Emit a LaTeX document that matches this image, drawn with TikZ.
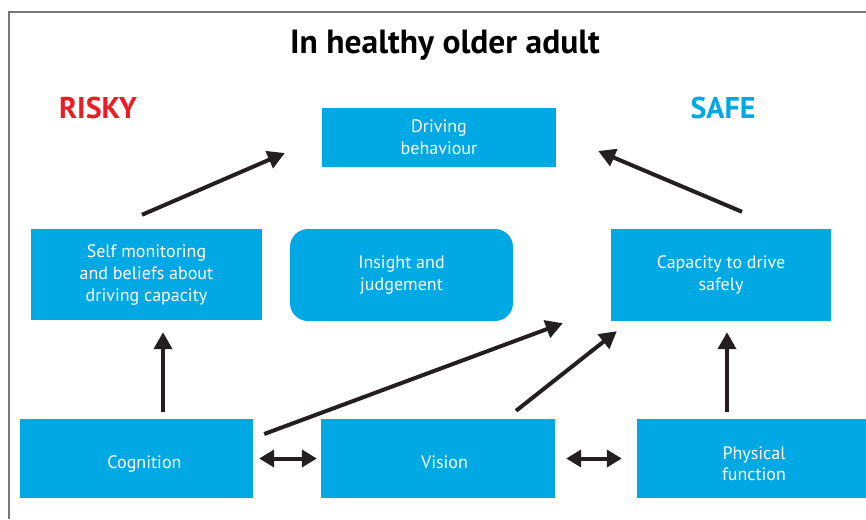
\documentclass[tikz,border=0pt]{standalone}
\usepackage{fontspec}
\setmainfont{PT Sans}
\usetikzlibrary{arrows.meta,calc}
\definecolor{boxcyan}{RGB}{0,168,228}
\definecolor{riskred}{RGB}{237,28,36}
\definecolor{arrowblk}{RGB}{35,31,32}
\definecolor{framegray}{RGB}{120,120,120}
% place text with its baseline shifted by #2 and its centre shifted right by #1
\newcommand\shifttext[3]{\raisebox{#2}[0pt][0pt]{\makebox[0pt]{\hspace*{#1}#3}}}
\tikzset{
  box/.style={fill=boxcyan, text=white, align=center, inner sep=0pt,
    font=\fontsize{18}{22}\selectfont},
  arr/.style={draw=arrowblk, line width=4pt, -{Triangle[length=17pt,width=18pt]}},
  dbl/.style={draw=arrowblk, line width=4pt, {Triangle[length=15pt,width=17pt]}-{Triangle[length=15pt,width=17pt]}},
  lbl/.style={font=\bfseries\fontsize{30}{33}\selectfont, inner sep=0pt}
}
\begin{document}
\begin{tikzpicture}[x=1pt,y=-1pt]
\useasboundingbox (0,0) rectangle (866,519);
\draw[framegray, line width=1.5pt] (9,519) -- (9,12) -- (866,12);
\node[font=\bfseries\fontsize{33.5}{36}\selectfont, inner sep=0pt] (title) at (445,45) {In healthy older adult};
\node[lbl, text=riskred] (risky) at (98,108) {RISKY};
\node[lbl, text=boxcyan] (safe) at (723,108) {SAFE};

\node[box, minimum width=234pt, minimum height=59pt] (drive) at (439,137.5) {Driving\\behaviour};
\node[box, minimum width=231pt, minimum height=91pt] (self) at (146.5,274.5) {Self monitoring\\and beliefs about\\driving capacity};
\node[box, minimum width=223pt, minimum height=92pt, rounded corners=18pt] (insight) at (401.5,275) {Insight and\\judgement};
\node[box, minimum width=220pt, minimum height=92pt] (cap) at (721,275) {Capacity to drive\\safely};
\node[box, minimum width=233pt, minimum height=79pt] (cog) at (136.5,458.5) {\shifttext{16pt}{-10pt}{Cognition}};
\node[box, minimum width=234pt, minimum height=79pt] (vis) at (438,458.5) {\shifttext{13pt}{-10pt}{Vision}};
\node[box, minimum width=229pt, minimum height=79pt] (phys) at (751.5,458.5) {\shifttext{5pt}{-22pt}{\shortstack{Physical\\[2pt]function}}};

\draw[arr] ([shift={(-4.5,-14)}]self.north) -- ([shift={(-37,15.5)}]drive.west);
\draw[arr] ([shift={(21,-17)}]cap.north) -- ([shift={(42,13.5)}]drive.east);
\draw[arr] ([shift={(26.5,-7)}]cog.north) -- ([shift={(16.5,12)}]self.south);
\draw[arr] ([shift={(-24.5,-7)}]phys.north) -- ([shift={(6,11)}]cap.south);
\draw[arr] ([shift={(11,-24.5)}]cog.east) -- ([shift={(-48,2)}]cap.south west);
\draw[arr] ([shift={(78,-8)}]vis.north) -- ([shift={(6,10)}]cap.south west);
\draw[dbl] ([xshift=6pt]cog.east) -- ([xshift=-4pt]vis.west);
\draw[dbl] ([xshift=11pt]vis.east) -- ([xshift=-15pt]phys.west);
\end{tikzpicture}
\end{document}
